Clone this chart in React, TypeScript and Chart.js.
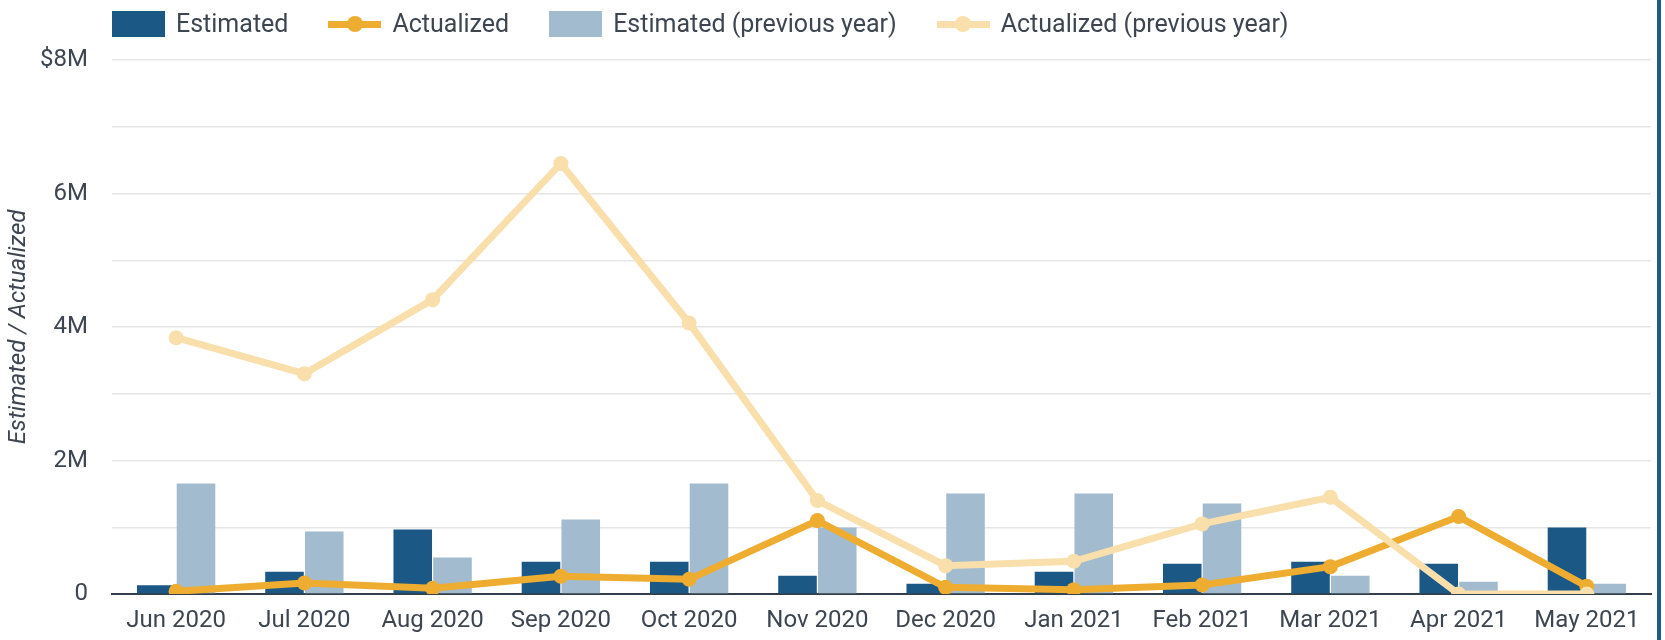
import React, { useEffect, useRef } from 'react';
import { Chart, registerables } from 'chart.js';

Chart.register(...registerables);

const months = ['Jun 2020', 'Jul 2020', 'Aug 2020', 'Sep 2020', 'Oct 2020', 'Nov 2020', 'Dec 2020', 'Jan 2021', 'Feb 2021', 'Mar 2021', 'Apr 2021', 'May 2021'];
const estimated = [130000, 335000, 965000, 485000, 485000, 275000, 155000, 335000, 455000, 485000, 455000, 995000];
const actualized = [40000, 165000, 85000, 265000, 220000, 1100000, 100000, 65000, 135000, 410000, 1160000, 115000];
const estimatedPrev = [1655000, 935000, 545000, 1115000, 1655000, 995000, 1505000, 1505000, 1355000, 275000, 185000, 155000];
const actualizedPrev = [3840000, 3300000, 4410000, 6450000, 4060000, 1400000, 425000, 490000, 1050000, 1450000, 0, 0];
const yTickLabels: Record<number, string> = { 0: '0', 2000000: '2M', 4000000: '4M', 6000000: '6M', 8000000: '$8M' };

const DARK = '#1B5886';
const LIGHT = '#A3BBCE';
const ORANGE = '#EEAD30';
const LORANGE = '#F8DFAB';
const TEXT = '#3D4650';
const FONT = 'Roboto';

const legendItems = [
  { label: 'Estimated', type: 'box', color: DARK },
  { label: 'Actualized', type: 'line', color: ORANGE },
  { label: 'Estimated (previous year)', type: 'box', color: LIGHT },
  { label: 'Actualized (previous year)', type: 'line', color: LORANGE },
];

export default function App() {
  const ref = useRef<HTMLCanvasElement | null>(null);

  useEffect(() => {
    if (!ref.current) return;
    const chart = new Chart(ref.current, {
      data: {
        labels: months,
        datasets: [
          {
            type: 'bar',
            label: 'Estimated',
            data: estimated,
            backgroundColor: DARK,
            borderWidth: 0,
            order: 3,
            categoryPercentage: 0.62,
            barPercentage: 0.97,
          },
          {
            type: 'line',
            label: 'Actualized',
            data: actualized,
            borderColor: ORANGE,
            backgroundColor: ORANGE,
            borderWidth: 7,
            pointRadius: 7.5,
            pointBorderWidth: 0,
            pointBackgroundColor: ORANGE,
            tension: 0,
            order: 1,
          },
          {
            type: 'bar',
            label: 'Estimated (previous year)',
            data: estimatedPrev,
            backgroundColor: LIGHT,
            borderWidth: 0,
            order: 4,
            categoryPercentage: 0.62,
            barPercentage: 0.97,
          },
          {
            type: 'line',
            label: 'Actualized (previous year)',
            data: actualizedPrev,
            borderColor: LORANGE,
            backgroundColor: LORANGE,
            borderWidth: 7,
            pointRadius: 7.5,
            pointBorderWidth: 0,
            pointBackgroundColor: LORANGE,
            tension: 0,
            order: 0,
          },
        ],
      } as any,
      options: {
        animation: false,
        responsive: true,
        maintainAspectRatio: false,
        layout: { padding: { top: 60, right: 14, bottom: 0, left: 0 } },
        plugins: {
          legend: { display: false },
          tooltip: { enabled: false },
        },
        scales: {
          x: {
            grid: { display: false, drawTicks: false },
            border: { display: true, color: '#33404C', width: 2 },
            ticks: {
              color: TEXT,
              font: { family: FONT, size: 24 },
              padding: 13,
              maxRotation: 0,
              autoSkip: false,
            },
            afterFit: (s: any) => { s.height = 46; },
          },
          y: {
            min: 0,
            max: 8000000,
            grid: { color: '#E6E6E6', lineWidth: 1.5, drawTicks: false },
            border: { display: false },
            ticks: {
              stepSize: 1000000,
              color: TEXT,
              font: { family: FONT, size: 24 },
              padding: 24,
              autoSkip: false,
              callback: (v: any) => yTickLabels[Number(v)] ?? '',
            },
            title: {
              display: true,
              text: 'Estimated / Actualized',
              color: TEXT,
              font: { family: FONT, size: 24, style: 'italic' },
              padding: { top: 5, bottom: 0 },
            },
            afterFit: (s: any) => { s.width = 112; },
          },
        },
      },
    });
    return () => chart.destroy();
  }, []);

  return (
    <div style={{ position: 'absolute', left: 0, top: 0, width: 1665, height: 640, overflow: 'hidden', background: '#fff', fontFamily: FONT }}>
      <div style={{ position: 'absolute', left: 0, top: 0, width: 1665, height: 640 }}>
        <canvas ref={ref} />
      </div>
      <div style={{ position: 'absolute', left: 112, top: 11, height: 26, display: 'flex', alignItems: 'center', whiteSpace: 'nowrap' }}>
        {legendItems.map((it) => (
          <div key={it.label} style={{ display: 'flex', alignItems: 'center', marginRight: 40 }}>
            {it.type === 'box' ? (
              <div style={{ width: 53, height: 26, background: it.color }} />
            ) : (
              <div style={{ position: 'relative', width: 53, height: 26 }}>
                <div style={{ position: 'absolute', left: 0, top: 9.5, width: 53, height: 7, background: it.color }} />
                <div style={{ position: 'absolute', left: 18.5, top: 5, width: 16, height: 16, borderRadius: 8, background: it.color }} />
              </div>
            )}
            <span style={{ marginLeft: 11, fontSize: 25, color: TEXT, lineHeight: '26px' }}>{it.label}</span>
          </div>
        ))}
      </div>
      <div style={{ position: 'absolute', left: 1657, top: 0, width: 4, height: 640, background: '#1E5C8E' }} />
    </div>
  );
}
